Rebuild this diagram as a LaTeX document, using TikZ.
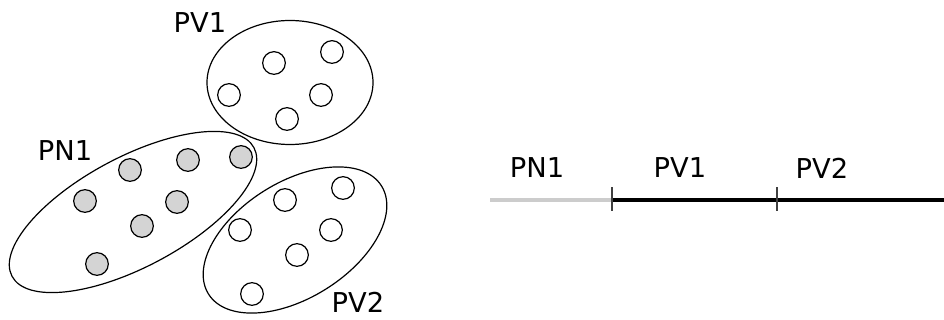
\documentclass[tikz,border=0pt]{standalone}
\usepackage{fontspec}
\setmainfont{DejaVu Sans}
\begin{document}
\begin{tikzpicture}[x=0.75pt,y=0.75pt,line width=0.9pt,
	pv/.style={circle,draw,fill=white,inner sep=0pt,minimum size=17pt,line width=0.9pt},
	pn/.style={pv,fill=black!17},
	lbl/.style={font=\fontsize{20.5}{22}\selectfont,inner sep=0pt}]
	\useasboundingbox (0,0) rectangle (944,320);
	% groups
	\draw (290,237.5) ellipse [x radius=83,y radius=62];
	\draw[rotate around={28:(133,108)}] (133,108) ellipse [x radius=137,y radius=55];
	\draw[rotate around={32:(295,80)}] (295,80) ellipse [x radius=102,y radius=58];
	\foreach \p [count=\i] in {(274,257),(332,268),(229,225),(321,225),(287,201)}
		\node[pv] (v1-\i) at \p {};
	\foreach \p [count=\i] in {(130,150),(188,160),(241,163),(85,119),(177,118),(142,94),(97,56)}
		\node[pn] (n1-\i) at \p {};
	\foreach \p [count=\i] in {(285,120),(343,132),(240,90),(331,90),(297,65),(252,26)}
		\node[pv] (v2-\i) at \p {};
	\node[lbl] (lv1) at (200,297) {PV1};
	\node[lbl] (ln1) at (65,169) {PN1};
	\node[lbl] (lv2) at (358,18) {PV2};
	% timeline
	\coordinate (t0) at (490,120);
	\coordinate (t1) at (612,120);
	\coordinate (t2) at (777,120);
	\coordinate (t3) at (944,120);
	\draw[black!20,line width=3pt] (t0) -- (t1);
	\draw[line width=3pt] (t1) -- (t3);
	\draw[black!75,line width=1pt] ([yshift=-8pt]t1) -- ([yshift=10pt]t1);
	\draw[black!75,line width=1pt] ([yshift=-8pt]t2) -- ([yshift=10pt]t2);
	\node[lbl] (tn1) at (537,152) {PN1};
	\node[lbl] (tv1) at (680,152) {PV1};
	\node[lbl] (tv2) at (822,152) {PV2};
\end{tikzpicture}
\end{document}
